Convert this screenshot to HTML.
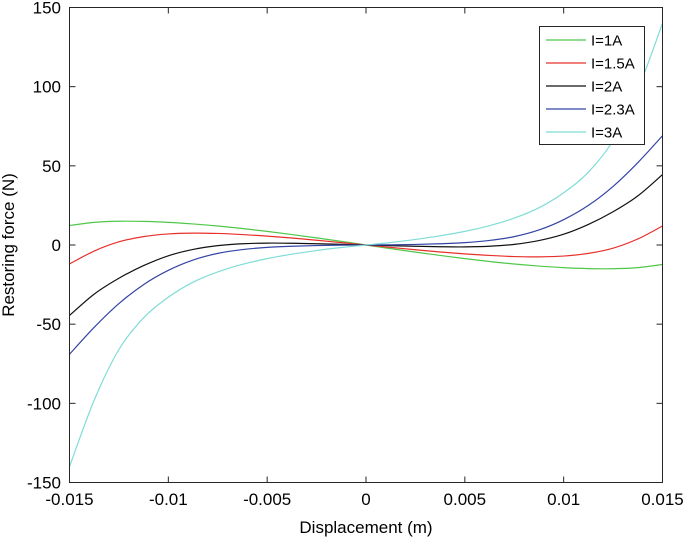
<!DOCTYPE html>
<html><head><meta charset="utf-8"><style>
body{margin:0;background:#fff}
svg{display:block;font-family:"Liberation Sans",Arial,sans-serif}
</style></head><body>
<svg id="chart" width="685" height="541" viewBox="0 0 685 541" xmlns="http://www.w3.org/2000/svg">
<g id="series"></g>
<rect x="69.5" y="7.5" width="593" height="475" fill="none" stroke="#262626" stroke-width="1"/>
<g id="ticks"></g>
<text x="366" y="533" font-size="17" text-anchor="middle" fill="#000">Displacement (m)</text>
<text transform="translate(14,245) rotate(-90)" font-size="17" text-anchor="middle" fill="#000">Restoring force (N)</text>
<g id="legend"></g>
</svg>
<script>
const xs=[-0.015,-0.01375,-0.0125,-0.01125,-0.01,-0.00875,-0.0075,-0.00625,-0.005,-0.00375,-0.0025,-0.00125,0,0.00125,0.0025,0.00375,0.005,0.00625,0.0075,0.00875,0.01,0.01125,0.0125,0.01375,0.015];
const labels=["I=1A","I=1.5A","I=2A","I=2.3A","I=3A"];
const colors=["#4fc84a","#e8302b","#111111","#3344a6","#7fdcd8"];
const s1=[12.3,14.3,15,14.9,14.3,13.3,12,10.4,8.6,6.6,4.5,2.3,0,-2.3,-4.5,-6.6,-8.6,-10.4,-12,-13.3,-14.3,-14.9,-15,-14.3,-12.3];
const s15=[-12,-3.8,2,5.3,7,7.5,7.3,6.6,5.6,4.4,3,1.5,0,-1.5,-3,-4.4,-5.6,-6.6,-7.3,-7.5,-7,-5.3,-2,3.8,12];
const s2=[-44.5,-31,-21,-13,-6.8,-2.8,-0.4,0.8,1.2,1.1,0.8,0.4,0,-0.4,-0.8,-1.1,-1.2,-0.8,0.4,2.8,6.8,13,21,31,44.5];
const s23=[-69,-52,-37,-25,-16,-9.5,-5.3,-2.9,-1.5,-0.8,-0.35,-0.1,0,0.1,0.35,0.8,1.5,2.9,5.3,9.5,16,25,37,52,69];
const s3=[-140,-98,-66,-46,-33,-23.5,-17,-12.2,-8.6,-5.8,-3.5,-1.6,0,1.6,3.5,5.8,8.6,12.2,17,23.5,33,46,66,98,140];
const xTicks=[-0.015,-0.01,-0.005,0,0.005,0.01,0.015];
const xTickLabels=["-0.015","-0.01","-0.005","0","0.005","0.01","0.015"];
const yTicks=[-150,-100,-50,0,50,100,150];
const yTickLabels=["-150","-100","-50","0","50","100","150"];
const series=[s1,s15,s2,s23,s3];
const NS="http://www.w3.org/2000/svg";
const X0=69.5,X1=662.5,Y0=482.5,Y1=7.5;
const sx=v=>X0+(v+0.015)/0.03*(X1-X0);
const sy=v=>Y0-(v+150)/300*(Y0-Y1);
function mk(t,a,p){const e=document.createElementNS(NS,t);for(const k in a)e.setAttribute(k,a[k]);p.appendChild(e);return e;}
const sg=document.getElementById('series');
series.forEach((s,i)=>{
  const P=xs.map((x,j)=>[sx(x),sy(s[j])]);
  let d="M"+P[0][0]+","+P[0][1];
  for(let j=0;j<P.length-1;j++){
    const p0=P[Math.max(j-1,0)],p1=P[j],p2=P[j+1],p3=P[Math.min(j+2,P.length-1)];
    const c1=[p1[0]+(p2[0]-p0[0])/6,p1[1]+(p2[1]-p0[1])/6];
    const c2=[p2[0]-(p3[0]-p1[0])/6,p2[1]-(p3[1]-p1[1])/6];
    d+=" C"+c1+" "+c2+" "+p2;
  }
  const el=mk('path',{d:d,fill:'none',stroke:colors[i],'stroke-width':1.2},sg);
  
  
});
const tg=document.getElementById('ticks');
xTicks.forEach((v,i)=>{
  const x=sx(v);
  mk('line',{x1:x,x2:x,y1:Y0,y2:Y0-6,stroke:'#262626'},tg);
  mk('line',{x1:x,x2:x,y1:Y1,y2:Y1+6,stroke:'#262626'},tg);
  const t=mk('text',{x:x,y:505,'font-size':17,'text-anchor':'middle'},tg);
  t.textContent=xTickLabels[i];
  
  
});
yTicks.forEach((v,i)=>{
  const y=sy(v);
  mk('line',{x1:X0,x2:X0+6,y1:y,y2:y,stroke:'#262626'},tg);
  mk('line',{x1:X1,x2:X1-6,y1:y,y2:y,stroke:'#262626'},tg);
  const t=mk('text',{x:61,y:y+6,'font-size':17,'text-anchor':'end'},tg);
  t.textContent=yTickLabels[i];
  
  
});
const lg=document.getElementById('legend');
mk('rect',{x:539.5,y:26.5,width:105,height:118,fill:'#fff',stroke:'#262626'},lg);
labels.forEach((l,i)=>{
  const y=40+i*23;
  mk('line',{x1:546,x2:586,y1:y,y2:y,stroke:colors[i],'stroke-width':1.2},lg);
  const t=mk('text',{x:591,y:y+5.5,'font-size':15},lg);
  t.textContent=l;
  
  
});
</script>
</body></html>
